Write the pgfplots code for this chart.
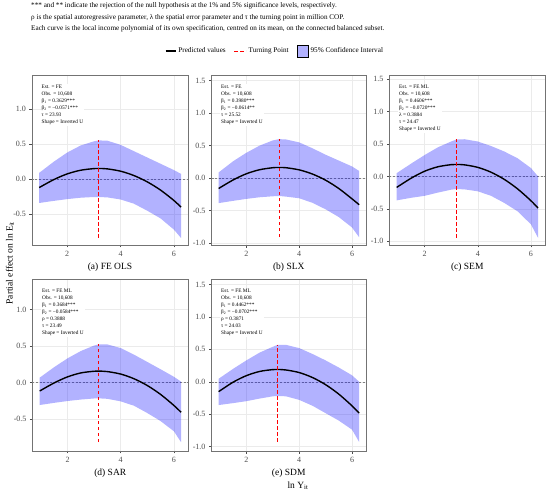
\documentclass[border=0pt]{standalone}
\usepackage{fontspec}
\setmainfont{Liberation Serif}
\usepackage{pgfplots}
\pgfplotsset{compat=1.18}
\usepackage{pgfplotstable}

% fitted values
\pgfplotstableread{
x fit
0.95 -0.120
1.5 -0.006
2.0 0.075
2.5 0.127
3.0 0.151
3.175 0.153
3.5 0.147
4.0 0.114
4.5 0.052
5.0 -0.038
5.5 -0.156
6.0 -0.304
6.27 -0.400
}\fitA
\pgfplotstableread{
x fit
0.95 -0.160
1.5 -0.028
2.0 0.067
2.5 0.129
3.0 0.160
3.239 0.164
3.5 0.160
4.0 0.127
4.5 0.063
5.0 -0.032
5.5 -0.160
6.0 -0.319
6.27 -0.410
}\fitB
\pgfplotstableread{
x fit
0.95 -0.170
1.5 -0.026
2.0 0.080
2.5 0.149
3.0 0.182
3.197 0.185
3.5 0.179
4.0 0.140
4.5 0.065
5.0 -0.046
5.5 -0.193
6.0 -0.375
6.27 -0.490
}\fitC
\pgfplotstableread{
x fit
0.95 -0.118
1.5 -0.006
2.0 0.076
2.5 0.130
3.0 0.153
3.156 0.155
3.5 0.148
4.0 0.114
4.5 0.050
5.0 -0.043
5.5 -0.165
6.0 -0.316
6.27 -0.410
}\fitD
\pgfplotstableread{
x fit
0.95 -0.153
1.5 -0.006
2.0 0.094
2.5 0.159
3.0 0.188
3.179 0.190
3.5 0.182
4.0 0.142
4.5 0.066
5.0 -0.045
5.5 -0.191
6.0 -0.372
6.27 -0.485
}\fitE

% 95% CI bands: upper bound left to right, then lower bound right to left
\pgfplotstableread{
x y
0.95 0.090
1.5 0.250
2.0 0.380
2.5 0.480
3.0 0.540
3.175 0.553
3.5 0.550
4.0 0.490
4.5 0.400
5.0 0.310
5.5 0.220
6.0 0.130
6.27 0.075
6.27 -0.840
6.0 -0.720
5.5 -0.560
5.0 -0.450
4.5 -0.350
4.0 -0.290
3.5 -0.260
3.175 -0.255
3.0 -0.255
2.5 -0.265
2.0 -0.285
1.5 -0.310
0.95 -0.340
}\ciA
\pgfplotstableread{
x y
0.95 0.087
1.5 0.260
2.0 0.390
2.5 0.500
3.0 0.580
3.239 0.600
3.5 0.595
4.0 0.550
4.5 0.460
5.0 0.360
5.5 0.270
6.0 0.180
6.27 0.110
6.27 -0.910
6.0 -0.760
5.5 -0.600
5.0 -0.480
4.5 -0.380
4.0 -0.310
3.5 -0.285
3.239 -0.275
3.0 -0.280
2.5 -0.295
2.0 -0.320
1.5 -0.350
0.95 -0.385
}\ciB
\pgfplotstableread{
x y
0.95 0.050
1.5 0.200
2.0 0.330
2.5 0.450
3.0 0.540
3.197 0.570
3.5 0.575
4.0 0.540
4.5 0.470
5.0 0.385
5.5 0.280
6.0 0.130
6.27 0.000
6.27 -0.950
6.0 -0.740
5.5 -0.540
5.0 -0.410
4.5 -0.300
4.0 -0.230
3.5 -0.200
3.197 -0.195
3.0 -0.205
2.5 -0.250
2.0 -0.300
1.5 -0.330
0.95 -0.370
}\ciC
\pgfplotstableread{
x y
0.95 0.065
1.5 0.210
2.0 0.330
2.5 0.430
3.0 0.505
3.156 0.520
3.5 0.520
4.0 0.470
4.5 0.380
5.0 0.280
5.5 0.180
6.0 0.077
6.27 0.010
6.27 -0.820
6.0 -0.670
5.5 -0.530
5.0 -0.420
4.5 -0.320
4.0 -0.260
3.5 -0.225
3.156 -0.218
3.0 -0.220
2.5 -0.235
2.0 -0.255
1.5 -0.280
0.95 -0.310
}\ciD
\pgfplotstableread{
x y
0.95 0.046
1.5 0.200
2.0 0.330
2.5 0.450
3.0 0.540
3.179 0.570
3.5 0.570
4.0 0.520
4.5 0.430
5.0 0.330
5.5 0.220
6.0 0.100
6.27 0.000
6.27 -0.930
6.0 -0.740
5.5 -0.600
5.0 -0.485
4.5 -0.370
4.0 -0.280
3.5 -0.225
3.179 -0.220
3.0 -0.225
2.5 -0.260
2.0 -0.300
1.5 -0.330
0.95 -0.360
}\ciE

\definecolor{cifill}{RGB}{0,0,255}

\pgfplotsset{
  panel/.style={
    scale only axis, anchor=north west,
    xmin=0.68, xmax=6.53,
    xtick={2,4,6}, ytick={-1,-0.5,0,0.5,1,1.5},
    /pgf/number format/assume math mode=true,
    yticklabel style={/pgf/number format/fixed,/pgf/number format/fixed zerofill,/pgf/number format/precision=1},
    tick label style={font=\fontsize{8}{9}\selectfont, text=black!70},
    axis line style={draw=black!55, line width=0.6pt},
    tick style={draw=black!70, line width=0.5pt},
    major tick length=2.5pt, tick align=outside,
    xtick pos=bottom, ytick pos=left,
    grid=major, major grid style={draw=black!8, line width=0.5pt},
    xticklabel shift=0pt, yticklabel shift=0pt,
  },
  zeroline/.style={draw=black!50, line width=0.4pt, dash pattern=on 2pt off 1.6pt, forget plot},
  ciband/.style={fill=cifill, fill opacity=0.3, draw=none, forget plot},
  fitline/.style={draw=black, line width=1.4pt, smooth, forget plot},
  tpline/.style={draw=red, line width=0.9pt, dash pattern=on 3.5pt off 2.5pt, forget plot},
}
\tikzset{
  annot/.style={anchor=north west, fill=white, inner sep=1pt, align=left,
    font=\fontsize{5.3}{7}\selectfont, xshift=8.5pt, yshift=-8.5pt},
}

\newcommand{\capfont}{\fontsize{9.5}{11}\selectfont}
\newcommand{\notefont}{\fontsize{7.2}{8}\selectfont}

\begin{document}
\begin{tikzpicture}

\node[anchor=west, inner sep=0, font=\notefont] at (31pt,-6pt) {*** and ** indicate the rejection of the null hypothesis at the 1\% and 5\% significance levels, respectively.};
\node[anchor=west, inner sep=0, font=\notefont] at (31pt,-17.5pt) {ρ is the spatial autoregressive parameter, λ the spatial error parameter and τ the turning point in million COP.};
\node[anchor=west, inner sep=0, font=\notefont] at (31pt,-29pt) {Each curve is the local income polynomial of its own specification, centred on its mean, on the connected balanced subset.};

% (a)
\begin{axis}[panel, at={(32pt,-75.5pt)}, width=156pt, height=169.5pt, ymin=-0.94, ymax=1.48,
  legend style={at={(1.5577,1.1445)}, anchor=center, draw=none, fill=none, legend columns=3,
    font=\fontsize{7.2}{8}\selectfont, inner sep=0pt,
    /tikz/every even column/.append style={column sep=6pt}}]
\addlegendimage{legend image code/.code={\draw[draw=black, line width=1.4pt] (0pt,0pt) -- (10pt,0pt);}}
\addlegendentry{Predicted values}
\addlegendimage{legend image code/.code={\draw[draw=red, line width=0.9pt, dash pattern=on 3.5pt off 2.5pt] (0pt,0pt) -- (12pt,0pt);}}
\addlegendentry{Turning Point}
\addlegendimage{legend image code/.code={\fill[fill=cifill, fill opacity=0.3] (0pt,-5.8pt) rectangle (11.6pt,5.8pt);}}
\addlegendentry{95\% Confidence Interval}
\addplot[zeroline] coordinates {(0,0) (7,0)};
\addplot[ciband] table[x=x,y=y]{\ciA};
\addplot[fitline] table[x=x,y=fit]{\fitA};
\addplot[tpline] coordinates {(3.175,-0.84) (3.175,0.553)};
\node[annot] at (rel axis cs:0,1) {Est. = FE\\Obs. = 10,608\\β\textsubscript{1} = 0.3629***\\β\textsubscript{2} = −0.0571***\\τ = 23.93\\Shape = Inverted U};
\end{axis}

% (b)
\begin{axis}[panel, at={(211.5pt,-75.5pt)}, width=154.5pt, height=169.5pt, ymin=-1.03, ymax=1.58]
\addplot[zeroline] coordinates {(0,0) (7,0)};
\addplot[ciband] table[x=x,y=y]{\ciB};
\addplot[fitline] table[x=x,y=fit]{\fitB};
\addplot[tpline] coordinates {(3.239,-0.91) (3.239,0.60)};
\node[annot] at (rel axis cs:0,1) {Est. = FE\\Obs. = 10,608\\β\textsubscript{1} = 0.3980***\\β\textsubscript{2} = −0.0614**\\τ = 25.52\\Shape = Inverted U};
\end{axis}

% (c)
\begin{axis}[panel, at={(389.5pt,-75.5pt)}, width=155.5pt, height=169.5pt, ymin=-1.06, ymax=1.56]
\addplot[zeroline] coordinates {(0,0) (7,0)};
\addplot[ciband] table[x=x,y=y]{\ciC};
\addplot[fitline] table[x=x,y=fit]{\fitC};
\addplot[tpline] coordinates {(3.197,-0.95) (3.197,0.575)};
\node[annot] at (rel axis cs:0,1) {Est. = FE ML\\Obs. = 10,608\\β\textsubscript{1} = 0.4606***\\β\textsubscript{2} = −0.0720***\\λ = 0.3884\\τ = 24.47\\Shape = Inverted U};
\end{axis}

% (d)
\begin{axis}[panel, at={(32.5pt,-279.5pt)}, width=155.5pt, height=171.5pt, ymin=-0.94, ymax=1.41]
\addplot[zeroline] coordinates {(0,0) (7,0)};
\addplot[ciband] table[x=x,y=y]{\ciD};
\addplot[fitline] table[x=x,y=fit]{\fitD};
\addplot[tpline] coordinates {(3.156,-0.82) (3.156,0.52)};
\node[annot] at (rel axis cs:0,1) {Est. = FE ML\\Obs. = 10,608\\β\textsubscript{1} = 0.3684***\\β\textsubscript{2} = −0.0584***\\ρ = 0.3888\\τ = 23.49\\Shape = Inverted U};
\end{axis}

% (e)
\begin{axis}[panel, at={(211.5pt,-279.5pt)}, width=154.5pt, height=171.5pt, ymin=-1.07, ymax=1.58]
\addplot[zeroline] coordinates {(0,0) (7,0)};
\addplot[ciband] table[x=x,y=y]{\ciE};
\addplot[fitline] table[x=x,y=fit]{\fitE};
\addplot[tpline] coordinates {(3.179,-0.93) (3.179,0.57)};
\node[annot] at (rel axis cs:0,1) {Est. = FE ML\\Obs. = 10,608\\β\textsubscript{1} = 0.4462***\\β\textsubscript{2} = −0.0702***\\ρ = 0.3871\\τ = 24.03\\Shape = Inverted U};
\end{axis}

\node[font=\capfont] at (110pt,-267.7pt) {(a) FE OLS};
\node[font=\capfont] at (288.75pt,-267.7pt) {(b) SLX};
\node[font=\capfont] at (467.25pt,-267.7pt) {(c) SEM};
\node[font=\capfont] at (110.25pt,-473pt) {(d) SAR};
\node[font=\capfont] at (288.75pt,-473pt) {(e) SDM};
\node[font=\capfont] at (298pt,-485.7pt) {ln Y\textsubscript{it}};
\node[font=\capfont, rotate=90] at (10pt,-263pt) {Partial effect on ln E\textsubscript{it}};

\pgfresetboundingbox
\useasboundingbox (0,0) rectangle (550pt,-492pt);
\end{tikzpicture}
\end{document}
